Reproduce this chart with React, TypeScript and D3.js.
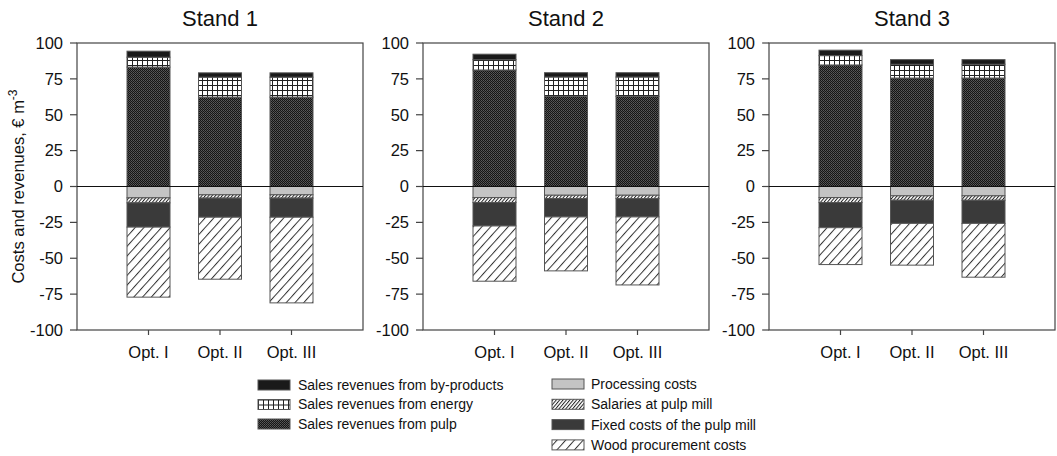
import React from "react";
import * as d3 from "d3";

const stands = ["Stand 1", "Stand 2", "Stand 3"];
const options = ["Opt. I", "Opt. II", "Opt. III"];
const yTicks = [100, 75, 50, 25, 0, -25, -50, -75, -100];

// values per stand (3 options each), flattened: stand1 I,II,III, stand2 I,II,III, stand3 I,II,III
const pulp = [83.2, 62.3, 62.3, 81.2, 62.8, 62.8, 84.7, 75.6, 75.6];
const energy = [6.9, 13.9, 13.9, 7.2, 13.5, 13.5, 6.5, 9.6, 9.6];
const byProducts = [4.2, 3.0, 3.0, 3.8, 3.0, 3.0, 3.8, 3.2, 3.2];
const processing = [-7.9, -5.8, -5.8, -7.7, -6.1, -6.1, -7.7, -6.5, -6.5];
const salaries = [-3.5, -2.3, -2.3, -3.5, -2.3, -2.3, -3.5, -3.1, -3.1];
const fixedCosts = [-16.9, -13.3, -13.3, -16.3, -12.8, -12.8, -17.5, -16.1, -16.1];
const wood = [-48.8, -43.2, -59.7, -38.5, -37.6, -47.4, -25.7, -29.1, -37.5];

const positiveSeries = [
  { key: "pulp", values: pulp, fill: "url(#pPulp)" },
  { key: "energy", values: energy, fill: "url(#pEnergy)" },
  { key: "byp", values: byProducts, fill: "#1a1a1a" },
];
const negativeSeries = [
  { key: "proc", values: processing, fill: "#c4c4c4" },
  { key: "sal", values: salaries, fill: "url(#pSal)" },
  { key: "fix", values: fixedCosts, fill: "#3a3a3a" },
  { key: "wood", values: wood, fill: "url(#pWood)" },
];

const legendLeft = [
  { label: "Sales revenues from by-products", fill: "#1a1a1a" },
  { label: "Sales revenues from energy", fill: "url(#pEnergy)" },
  { label: "Sales revenues from pulp", fill: "url(#pPulp)" },
];
const legendRight = [
  { label: "Processing costs", fill: "#c4c4c4" },
  { label: "Salaries at pulp mill", fill: "url(#pSal)" },
  { label: "Fixed costs of the pulp mill", fill: "#3a3a3a" },
  { label: "Wood procurement costs", fill: "url(#pWood)" },
];

const W = 1057;
const H = 456;
const panelLeft = [77, 423, 769];
const panelW = 286;
const top = 43;
const bottom = 330;
const font = "Arial, 'Liberation Sans', sans-serif";

export default function App() {
  const y = d3.scaleLinear().domain([-100, 100]).range([bottom, top]);
  const x = d3.scalePoint<string>().domain(options).range([0, panelW]).padding(1);
  const barW = 43;
  const stroke = "#555";

  return (
    <svg
      width={W}
      height={H}
      style={{ position: "absolute", left: 0, top: 0, background: "#fff" }}
      fontFamily={font}
    >
      <defs>
        <pattern id="pPulp" patternUnits="userSpaceOnUse" width={2} height={2}>
          <rect width={2} height={2} fill="#141414" />
          <rect x={0} y={0} width={1} height={1} fill="#5a5a5a" />
          <rect x={1} y={1} width={1} height={1} fill="#4a4a4a" />
        </pattern>
        <pattern id="pEnergy" patternUnits="userSpaceOnUse" width={5} height={5}>
          <rect width={5} height={5} fill="#fff" />
          <line x1={0.5} y1={0} x2={0.5} y2={5} stroke="#222" strokeWidth={1} />
          <line x1={0} y1={0.5} x2={5} y2={0.5} stroke="#222" strokeWidth={1} />
        </pattern>
        <pattern id="pSal" patternUnits="userSpaceOnUse" width={2.6} height={10} patternTransform="rotate(40)">
          <rect width={2.6} height={10} fill="#fff" />
          <line x1={0.5} y1={0} x2={0.5} y2={10} stroke="#222" strokeWidth={1} />
        </pattern>
        <pattern id="pWood" patternUnits="userSpaceOnUse" width={6.5} height={10} patternTransform="rotate(42)">
          <rect width={6.5} height={10} fill="#fff" />
          <line x1={0.5} y1={0} x2={0.5} y2={10} stroke="#333" strokeWidth={1} />
        </pattern>
      </defs>

      <text
        transform={`translate(24,${y(0)}) rotate(-90)`}
        textAnchor="middle"
        fontSize={16.5}
        fill="#111"
      >
        Costs and revenues, € m
        <tspan dy={-7} fontSize={12}>-3</tspan>
      </text>

      {stands.map((s, si) => {
        const ox = panelLeft[si];
        return (
          <g key={s} transform={`translate(${ox},0)`}>
            <text x={panelW / 2} y={26} textAnchor="middle" fontSize={22} fill="#111">
              {s}
            </text>
            {/* bars */}
            {options.map((o, oi) => {
              const idx = si * 3 + oi;
              const cx = x(o) as number;
              let acc = 0;
              const pos = positiveSeries.map((ser) => {
                const v0 = acc;
                acc += ser.values[idx];
                return (
                  <rect
                    key={ser.key}
                    x={cx - barW / 2}
                    y={y(acc)}
                    width={barW}
                    height={y(v0) - y(acc)}
                    fill={ser.fill}
                    stroke={stroke}
                    strokeWidth={1}
                  />
                );
              });
              let nacc = 0;
              const neg = negativeSeries.map((ser) => {
                const v0 = nacc;
                nacc += ser.values[idx];
                return (
                  <rect
                    key={ser.key}
                    x={cx - barW / 2}
                    y={y(v0)}
                    width={barW}
                    height={y(nacc) - y(v0)}
                    fill={ser.fill}
                    stroke={stroke}
                    strokeWidth={1}
                  />
                );
              });
              return (
                <g key={o}>
                  {pos}
                  {neg}
                </g>
              );
            })}
            {/* frame */}
            <rect x={0} y={top} width={panelW} height={bottom - top} fill="none" stroke="#444" strokeWidth={1.2} />
            <line x1={0} x2={panelW} y1={y(0)} y2={y(0)} stroke="#111" strokeWidth={1} />
            {/* y ticks */}
            {yTicks.map((t) => (
              <g key={t}>
                <line x1={-7} x2={0} y1={y(t)} y2={y(t)} stroke="#444" strokeWidth={1.2} />
                <text x={-14} y={y(t)} dy="0.35em" textAnchor="end" fontSize={16.5} fill="#111">
                  {t}
                </text>
              </g>
            ))}
            {/* x ticks */}
            {options.map((o) => (
              <g key={o}>
                <line x1={x(o)} x2={x(o)} y1={bottom} y2={bottom + 5} stroke="#444" strokeWidth={1.2} />
                <text x={x(o)} y={358} textAnchor="middle" fontSize={16.5} fill="#111">
                  {o}
                </text>
              </g>
            ))}
          </g>
        );
      })}

      {/* legend */}
      {legendLeft.map((l, i) => (
        <g key={l.label} transform={`translate(258,${385 + i * 19.5})`}>
          <rect x={0} y={-5} width={32} height={10} fill={l.fill} stroke={stroke} strokeWidth={1} />
          <text x={40} y={0} dy="0.35em" fontSize={14} fill="#111">
            {l.label}
          </text>
        </g>
      ))}
      {legendRight.map((l, i) => (
        <g key={l.label} transform={`translate(552,${384 + i * 20.3})`}>
          <rect x={0} y={-5} width={32} height={10} fill={l.fill} stroke={stroke} strokeWidth={1} />
          <text x={39} y={0} dy="0.35em" fontSize={14} fill="#111">
            {l.label}
          </text>
        </g>
      ))}
    </svg>
  );
}
